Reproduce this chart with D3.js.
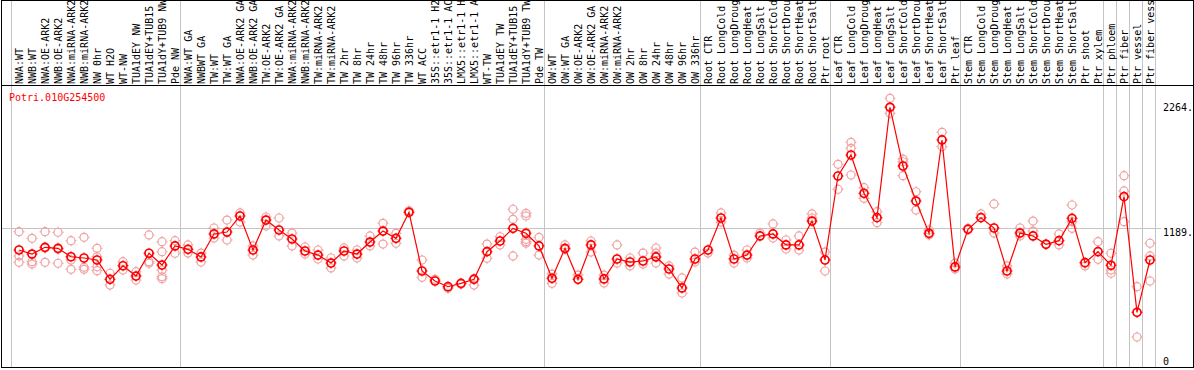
<!DOCTYPE html>
<html lang="en">
<meta charset="UTF-8">
<style>
    body { margin: 0; background: #fff; }
    text { font-family: "DejaVu Sans Mono", monospace; font-size: 10px; }
</style>
<body>
<svg width="1194" height="370" id="chart"></svg>
<script src="https://d3js.org/d3.v7.min.js"></script>
<script>
const gene = "Potri.010G254500";

const samples = [
    "NWA:WT", "NWB:WT", "NWA:OE-ARK2", "NWB:OE-ARK2", "NWA:miRNA-ARK2", "NWB:miRNA-ARK2",
    "NW 0hr", "WT H2O", "WT-NW", "TUA1dEY NW", "TUA1dEY+TUB15 NW", "TUA1dY+TUB9 NW", "Pde NW",
    "NWA:WT GA", "NWBWT GA", "TW:WT", "TW:WT GA", "NWA:OE-ARK2 GA", "NWB:OE-ARK2 GA",
    "TW:OE-ARK2", "TW:OE-ARK2 GA", "NWA:miRNA-ARK2", "NWB:miRNA-ARK2", "TW:miRNA-ARK2", "TW:miRNA-ARK2",
    "TW 2hr", "TW 8hr", "TW 24hr", "TW 48hr", "TW 96hr", "TW 336hr", "WT ACC",
    "35S::etr1-1 H2O", "35S::etr1-1 ACC", "LMX5::etr1-1 H2O", "LMX5::etr1-1 ACC",
    "WT-TW", "TUA1dEY TW", "TUA1dEY+TUB15 TW", "TUA1dY+TUB9 TW", "Pde TW",
    "OW:WT", "OW:WT GA", "OW:OE-ARK2", "OW:OE-ARK2 GA", "OW:miRNA-ARK2", "OW:miRNA-ARK2",
    "OW 2hr", "OW 8hr", "OW 24hr", "OW 48hr", "OW 96hr", "OW 336hr",
    "Root CTR", "Root LongCold", "Root LongDrought", "Root LongHeat", "Root LongSalt",
    "Root ShortCold", "Root ShortDrought", "Root ShortHeat", "Root ShortSalt", "Ptr root",
    "Leaf CTR", "Leaf LongCold", "Leaf LongDrought", "Leaf LongHeat", "Leaf LongSalt",
    "Leaf ShortCold", "Leaf ShortDrought", "Leaf ShortHeat", "Leaf ShortSalt", "Ptr leaf",
    "Stem CTR", "Stem LongCold", "Stem LongDrought", "Stem LongHeat", "Stem LongSalt",
    "Stem ShortCold", "Stem ShortDrought", "Stem ShortHeat", "Stem ShortSalt", "Ptr shoot",
    "Ptr xylem", "Ptr phloem", "Ptr fiber", "Ptr vessel", "Ptr fiber vessel"
];

// mean expression per sample
const means = [
    993, 957, 1017, 1008, 933, 922, 904, 732, 853, 761, 964, 859, 1029,
    999, 931, 1136, 1153, 1296, 993, 1260, 1171, 1091, 984, 948, 877,
    984, 957, 1064, 1162, 1097, 1329, 806, 717, 666, 696, 732,
    978, 1073, 1186, 1142, 1029,
    741, 1008, 732, 1038, 735, 913, 886, 895, 931, 824, 655, 913,
    993, 1278, 913, 948, 1118, 1136, 1038, 1038, 1251, 904,
    1652, 1839, 1498, 1281, 2264, 1741, 1429, 1142, 1973, 842,
    1177, 1281, 1189, 806, 1144, 1118, 1044, 1076, 1275, 880,
    978, 857, 1468, 438, 904
];

// replicate values per sample
const reps = [
    [1156, 940, 883], [1097, 889, 868], [1156, 1010, 883], [1151, 1000, 875], [1076, 904, 821],
    [1106, 840, 821], [1008, 933, 844, 809], [786, 681], [889, 815], [800, 726],
    [1127, 889, 875], [1067, 978, 815, 755, 737], [1076, 964],
    [1038, 966], [966, 886], [1189, 1100], [1260, 1082], [1323, 1242], [1029, 948],
    [1287, 1207], [1278, 1118], [1144, 1029], [1020, 957], [993, 913], [922, 833],
    [1011, 940], [993, 922], [1118, 1029], [1231, 1046], [1142, 1053], [1342], [904, 750],
    [732], [652], [688], [741, 681],
    [1046, 919], [1111, 1038], [1356, 1266, 940], [1320, 1296, 1088, 1067, 1053], [1106, 948],
    [779, 696], [1038, 999], [770], [1073, 975], [770, 699], [1038, 877],
    [922, 851], [966, 868], [1011, 966, 877], [851, 779], [744, 610], [975, 886],
    [966], [1323, 1242], [948, 877], [993, 922], [1144], [1225, 1100], [1082, 1002],
    [1118, 993], [1314, 1278], [975, 806],
    [1756, 1534], [1952, 1899, 1661], [1548, 1453], [1334, 1236], [2344, 2211],
    [1803, 1779, 1655], [1512, 1349], [1171, 1127], [2041, 1913], [877, 824],
    [1186], [1314], [1403, 1144], [851, 779], [1189, 1118], [1251, 1162], [1046],
    [1136, 1038], [1394, 1245, 1186], [877, 851],
    [1067, 910], [964, 815, 786], [1655, 1519, 1245], [666, 218], [1053, 940, 717]
];

// first sample index of every block (last entry = end)
const groupStarts = [0, 13, 41, 53, 63, 73, 84, 85, 86, 87, 88];
const yTicks = [2264, 1189, 0];
const yTickLabels = ["2264.", "1189.", "0"];
const gridValues = [1189];

const svg = d3.select('#chart');
const n = samples.length;

const x = d3.scaleBand()
    .domain(d3.range(n))
    .range([11, 11 + 13 * n]);
const px = i => x(i) + 8;
const edge = k => (k === n ? x(n - 1) + x.bandwidth() : x(k)) + 0.5;

const y = d3.scaleLinear()
    .domain([0, 2264])
    .range([361.5, 107.3]);

svg.append('defs').append('clipPath')
    .attr('id', 'labelClip')
    .append('rect')
    .attr('x', 0).attr('y', 1)
    .attr('width', 1194).attr('height', 84);

// block separators
svg.append('g').selectAll('line')
    .data(groupStarts)
    .enter().append('line')
    .attr('x1', edge).attr('x2', edge)
    .attr('y1', 0.5).attr('y2', 367.5)
    .attr('stroke', '#c4c4c4')
    .attr('stroke-width', 1);

// grid line
svg.append('g').selectAll('line')
    .data(gridValues)
    .enter().append('line')
    .attr('x1', 2).attr('x2', 1161)
    .attr('y1', d => Math.round(y(d)) + 0.5)
    .attr('y2', d => Math.round(y(d)) + 0.5)
    .attr('stroke', '#c4c4c4');

// frame
svg.append('rect')
    .attr('x', 1.5).attr('y', 0.5)
    .attr('width', 1192).attr('height', 367)
    .attr('fill', 'none')
    .attr('stroke', '#000');
svg.append('line')
    .attr('x1', 1.5).attr('x2', 1193.5)
    .attr('y1', 85.5).attr('y2', 85.5)
    .attr('stroke', '#000');

// sample labels
svg.append('g')
    .attr('clip-path', 'url(#labelClip)')
    .selectAll('text')
    .data(samples)
    .enter().append('text')
    .attr('transform', (d, i) => `translate(${px(i) + 3.5}, 84) rotate(-90)`)
    .attr('fill', '#000')
    .text(d => d);

// gene name
svg.append('text')
    .attr('x', 9)
    .attr('y', 101)
    .attr('fill', '#ff0000')
    .text(gene);

// value labels on the right
svg.append('g').selectAll('text')
    .data(yTicks)
    .enter().append('text')
    .attr('x', 1163)
    .attr('y', (d, i) => y(d) + (i === 1 ? 7.5 : 3.5))
    .attr('fill', '#000')
    .text((d, i) => yTickLabels[i]);

function addMarkers(g, pts, color, width) {
    const r = 4;
    g.selectAll('circle')
        .data(pts)
        .enter().append('circle')
        .attr('cx', d => d[0])
        .attr('cy', d => d[1])
        .attr('r', r)
        .attr('fill', 'none')
        .attr('stroke', color)
        .attr('stroke-width', width);
    g.selectAll('path')
        .data(pts)
        .enter().append('path')
        .attr('d', d => `M${d[0]},${d[1] - r - 1.5}v1.5M${d[0]},${d[1] + r}v1.5` +
            `M${d[0] - r - 1.5},${d[1]}h1.5M${d[0] + r},${d[1]}h1.5`)
        .attr('stroke', color)
        .attr('stroke-width', 1);
}

// replicates
const repPts = [];
reps.forEach((list, i) => list.forEach(v => repPts.push([px(i), y(v)])));
addMarkers(svg.append('g'), repPts, '#f0a0a0', 1.2);

// mean line
const line = d3.line()
    .x((d, i) => px(i))
    .y(d => y(d));
svg.append('path')
    .datum(means)
    .attr('d', line)
    .attr('fill', 'none')
    .attr('stroke', '#ff0000')
    .attr('stroke-width', 1.2);

addMarkers(svg.append('g'), means.map((v, i) => [px(i), y(v)]), '#ff0000', 1.7);
</script>
</body>
</html>
